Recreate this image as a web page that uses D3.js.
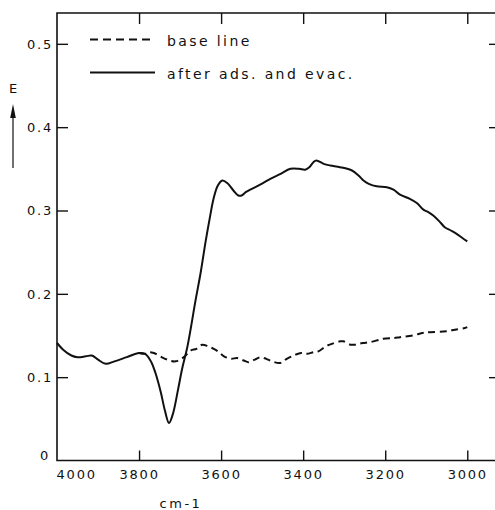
<!DOCTYPE html>
<html>
<head>
<meta charset="utf-8">
<script src="https://cdn.jsdelivr.net/npm/d3@7"></script>
<style>
  html, body { margin: 0; padding: 0; background: #fff; }
  svg text { font-family: "DejaVu Sans", sans-serif; fill: #111; }
</style>
</head>
<body>
<svg id="chart" width="495" height="510"></svg>
<script>
// IR spectrum: extinction E versus wavenumber (cm-1)
const xTicks = [4000, 3800, 3600, 3400, 3200, 3000];
const yTicks = [0, 0.1, 0.2, 0.3, 0.4, 0.5];
const xTickLabels = ["4000", "3800", "3600", "3400", "3200", "3000"];
const yTickLabels = ["0", "0.1", "0.2", "0.3", "0.4", "0.5"];
const seriesNames = ["base line", "after ads. and evac."];

// "after ads. and evac." spectrum
const afterWavenumber = [4000, 3985, 3965, 3950, 3930, 3915, 3900, 3881, 3860, 3830, 3800, 3785,
  3770, 3760, 3747, 3737, 3727, 3718, 3705, 3695, 3682, 3662, 3650, 3638, 3628, 3618, 3608, 3597,
  3585, 3570, 3558, 3550, 3540, 3529, 3505, 3480, 3455, 3431, 3410, 3395, 3385, 3375, 3368, 3350,
  3334, 3310, 3281, 3265, 3253, 3240, 3221, 3196, 3180, 3164, 3140, 3123, 3107, 3095, 3083, 3068,
  3055, 3040, 3026, 3012, 3000];
const afterE = [0.141, 0.133, 0.126, 0.124, 0.125, 0.126, 0.121, 0.116, 0.119, 0.124, 0.129, 0.128,
  0.118, 0.105, 0.082, 0.060, 0.045, 0.055, 0.085, 0.110, 0.137, 0.193, 0.225, 0.262, 0.290, 0.315, 0.330, 0.336,
  0.333, 0.324, 0.318, 0.318, 0.322, 0.325, 0.331, 0.338, 0.344, 0.350, 0.350, 0.349, 0.352, 0.358, 0.360, 0.356,
  0.354, 0.352, 0.348, 0.342, 0.336, 0.332, 0.329, 0.328, 0.325, 0.319, 0.314, 0.309, 0.301, 0.298, 0.294, 0.287,
  0.280, 0.276, 0.272, 0.267, 0.263];

// base line spectrum (branches off at ~3800 cm-1)
const baseWavenumber = [3800, 3785, 3775, 3764, 3745, 3731, 3711, 3691, 3674, 3660, 3646, 3632, 3618,
  3605, 3593, 3575, 3561, 3545, 3533, 3518, 3504, 3490, 3476, 3456, 3440, 3419, 3405, 3391, 3375,
  3363, 3345, 3330, 3310, 3302, 3285, 3273, 3255, 3237, 3205, 3180, 3164, 3132, 3110, 3091, 3051,
  3030, 3006, 3000];
const baseE = [0.129, 0.128, 0.130, 0.129, 0.124, 0.121, 0.119, 0.124, 0.132, 0.134, 0.139, 0.137, 0.134,
  0.130, 0.125, 0.122, 0.123, 0.120, 0.118, 0.121, 0.124, 0.122, 0.119, 0.117, 0.122, 0.127, 0.129, 0.128, 0.130,
  0.131, 0.137, 0.140, 0.143, 0.143, 0.139, 0.139, 0.141, 0.142, 0.146, 0.147, 0.148, 0.150, 0.153, 0.154, 0.155,
  0.157, 0.159, 0.160];

const svg = d3.select("#chart");
const m = { left: 57, right: 496, top: 13, bottom: 460.5 };

const x = d3.scaleLinear().domain([4000, 2930]).range([m.left, m.right]);
const y = d3.scaleLinear().domain([0, 0.537]).range([m.bottom, m.top]);

const ink = "#111";

// frame lines (left, top, bottom); right edge lies past the canvas
svg.append("path")
  .attr("d", `M${m.right},${m.top}H${m.left}V${m.bottom}H${m.right}`)
  .attr("fill", "none").attr("stroke", ink).attr("stroke-width", 1.6);

const tickFont = g => g.selectAll("text")
  .attr("font-size", 13).attr("letter-spacing", "1.8px");

// left axis
const gl = svg.append("g").attr("transform", `translate(${m.left},0)`)
  .call(d3.axisLeft(y).tickValues(yTicks).tickFormat((d, i) => yTickLabels[i])
    .tickSizeInner(-11).tickSizeOuter(0).tickPadding(4));
gl.select(".domain").remove();
gl.selectAll(".tick line").attr("stroke", ink).attr("stroke-width", 1.4);
gl.call(tickFont);
gl.selectAll(".tick").filter(d => d === 0).select("text").attr("x", -7).attr("dy", "-0.1em");
gl.selectAll(".tick").filter(d => d === 0).select("line").remove();

// right ticks
const gr = svg.append("g").attr("transform", `translate(${m.right},0)`)
  .call(d3.axisRight(y).tickValues(yTicks.slice(1)).tickFormat("")
    .tickSizeInner(-7).tickSizeOuter(0));
gr.select(".domain").remove();
gr.selectAll(".tick line").attr("stroke", ink).attr("stroke-width", 1.4);

// bottom axis
const gb = svg.append("g").attr("transform", `translate(0,${m.bottom})`)
  .call(d3.axisBottom(x).tickValues(xTicks).tickFormat((d, i) => xTickLabels[i])
    .tickSizeInner(-10).tickSizeOuter(0).tickPadding(9));
gb.select(".domain").remove();
gb.selectAll(".tick line").attr("stroke", ink).attr("stroke-width", 1.4);
gb.call(tickFont);
gb.selectAll(".tick").filter(d => d === 4000).select("line").remove();
gb.selectAll(".tick").filter(d => d === 4000).select("text").attr("text-anchor", "start").attr("x", -1);

// top ticks
const gt = svg.append("g").attr("transform", `translate(0,${m.top})`)
  .call(d3.axisTop(x).tickValues(xTicks.slice(1)).tickFormat("")
    .tickSizeInner(-11).tickSizeOuter(0));
gt.select(".domain").remove();
gt.selectAll(".tick line").attr("stroke", ink).attr("stroke-width", 1.4);

// axis titles
svg.append("text").attr("x", 181).attr("y", 508).attr("text-anchor", "middle")
  .attr("font-size", 13).attr("letter-spacing", "2.5px").text("cm-1");
svg.append("text").attr("x", 13).attr("y", 93).attr("text-anchor", "middle")
  .attr("font-size", 13).text("E");
svg.append("line").attr("x1", 13).attr("x2", 13).attr("y1", 168).attr("y2", 110)
  .attr("stroke", ink).attr("stroke-width", 1.2);
svg.append("path").attr("d", "M13,104 L10.2,118 L15.8,118 Z").attr("fill", ink);

// spectra
const line = d3.line().x(d => x(d[0])).y(d => y(d[1])).curve(d3.curveCatmullRom.alpha(0.5));
const afterData = afterWavenumber.map((w, i) => [w, afterE[i]]);
const baseData = baseWavenumber.map((w, i) => [w, baseE[i]]);

svg.append("path").datum(baseData).attr("d", line)
  .attr("fill", "none").attr("stroke", ink).attr("stroke-width", 2)
  .attr("stroke-dasharray", "7,4.5");
svg.append("path").datum(afterData).attr("d", line)
  .attr("fill", "none").attr("stroke", ink).attr("stroke-width", 2)
  .attr("stroke-linejoin", "round");

// legend
const legendY = [39.5, 72.5];
const dashes = ["8,5", null];
seriesNames.forEach((name, i) => {
  svg.append("line").attr("x1", 90).attr("x2", 155).attr("y1", legendY[i]).attr("y2", legendY[i])
    .attr("stroke", ink).attr("stroke-width", 1.8)
    .attr("stroke-dasharray", dashes[i]);
  svg.append("text").attr("x", 167).attr("y", legendY[i] + 6)
    .attr("font-size", 14).attr("letter-spacing", "2.4px").text(name);
});
</script>
</body>
</html>
